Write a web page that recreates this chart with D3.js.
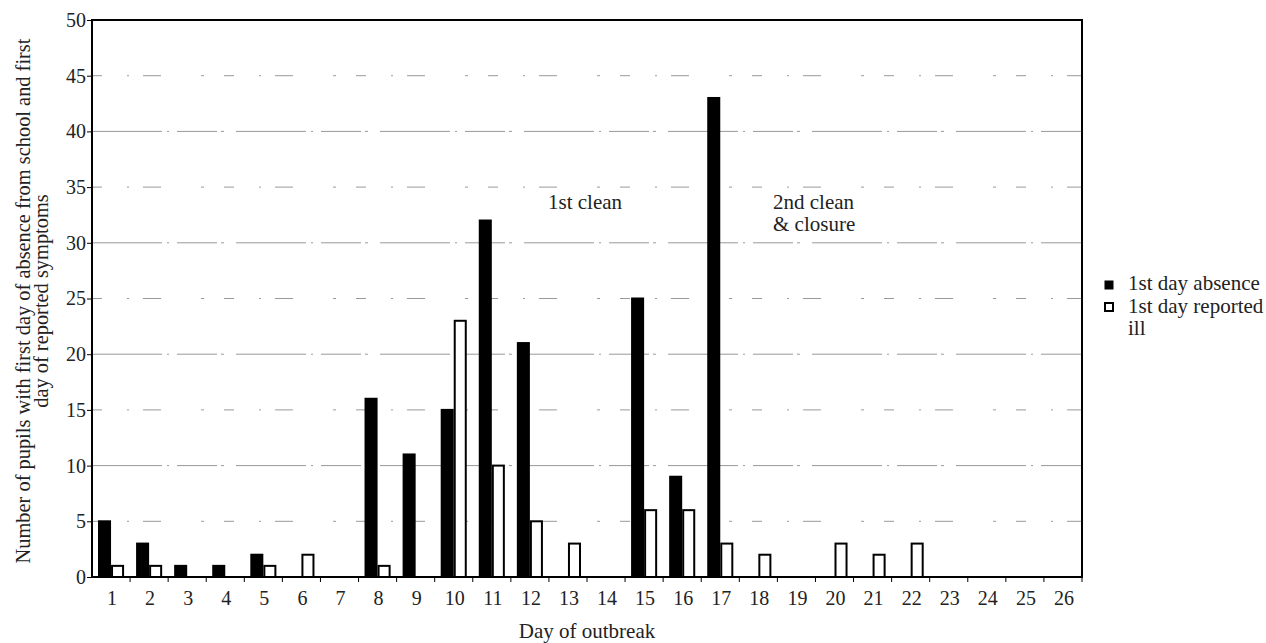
<!DOCTYPE html>
<html>
<head>
<meta charset="utf-8">
<script src="https://cdn.jsdelivr.net/npm/d3@7"></script>
<style>
  body { margin: 0; background: #fff; }
  svg text { font-family: "Liberation Serif", "Times New Roman", Times, serif; fill: #222; }
</style>
</head>
<body>
<svg id="chart" width="1266" height="643" font-family="Liberation Serif, Times New Roman, serif"></svg>
<script>
// values
var days = ["1","2","3","4","5","6","7","8","9","10","11","12","13","14","15","16","17","18","19","20","21","22","23","24","25","26"]
var absence  = [5,3,1,1,2,0,0,16,11,15,32,21,0,0,25,9,43,0,0,0,0,0,0,0,0,0]
var reported = [1,1,0,0,1,2,0,1,0,23,10,5,3,0,6,6,3,2,0,3,2,3,0,0,0,0]
var series = ["1st day absence","1st day reported ill"]
var yTicks = [0,5,10,15,20,25,30,35,40,45,50]

var FONT = "'Liberation Serif', 'Times New Roman', serif"
var margin = {left: 92, top: 20, right: 1082, bottom: 577}
var svg = d3.select("#chart")

var x = d3.scaleBand().domain(days).range([margin.left, margin.right]).padding(0)
var xs = d3.scaleBand().domain(series).range([6, x.bandwidth() - 6]).padding(0)
var y = d3.scaleLinear().domain([0, 50]).range([margin.bottom, margin.top])

// grid (faint broken lines like the scan)
svg.append("g").selectAll("line")
    .data(yTicks.filter(d => d > 0 && d < 50))
    .enter().append("line")
    .attr("x1", margin.left).attr("x2", margin.right)
    .attr("y1", d => y(d)).attr("y2", d => y(d))
    .attr("stroke", "#999")
    .attr("stroke-width", 1)
    .attr("stroke-dasharray", d => d % 10 == 0 ? "70,5,2,8,40,4,3,12" : "10,25,2,14,18,40,3,20")

// bars
var rows = days.map((d, i) => ({day: d, vals: [absence[i], reported[i]]}))
var grp = svg.append("g").selectAll("g").data(rows).enter().append("g")
    .attr("transform", d => "translate(" + x(d.day) + ",0)")
grp.selectAll("rect")
    .data(d => d.vals.map((v, k) => ({s: series[k], v: v})).filter(e => e.v > 0))
    .enter().append("rect")
    .attr("x", d => xs(d.s) + 1)
    .attr("width", xs.bandwidth() - 2)
    .attr("y", d => y(d.v))
    .attr("height", d => y(0) - y(d.v))
    .attr("fill", d => d.s == series[0] ? "#000" : "#fff")
    .attr("stroke", "#000")
    .attr("stroke-width", 2)

// frame
svg.append("rect")
    .attr("x", margin.left).attr("y", margin.top)
    .attr("width", margin.right - margin.left).attr("height", margin.bottom - margin.top)
    .attr("fill", "none").attr("stroke", "#000").attr("stroke-width", 2)

// y axis
var yAxis = d3.axisLeft(y).tickValues(yTicks).tickSize(5).tickPadding(1)
var gy = svg.append("g").attr("transform", "translate(" + margin.left + ",0)").call(yAxis)
gy.attr("font-family", FONT)
gy.select(".domain").remove()
gy.selectAll("text").style("font-size", "20px").attr("fill", "#222")

// x axis: ticks at band boundaries, labels at band centres
var xAxis = d3.axisBottom(x).tickSize(0).tickPadding(14)
var gx = svg.append("g").attr("transform", "translate(1," + margin.bottom + ")").call(xAxis)
gx.attr("font-family", FONT)
gx.select(".domain").remove()
gx.selectAll("text").style("font-size", "20px").attr("fill", "#222")
svg.append("g").selectAll("line")
    .data(days.slice(1).concat(["end"]))
    .enter().append("line")
    .attr("x1", (d, i) => margin.left + (i + 1) * x.step())
    .attr("x2", (d, i) => margin.left + (i + 1) * x.step())
    .attr("y1", margin.bottom).attr("y2", margin.bottom + 5)
    .attr("stroke", "#000").attr("stroke-width", 1)

// axis titles
svg.append("text")
    .attr("x", 587).attr("y", 638)
    .attr("text-anchor", "middle")
    .style("font-size", "21px")
    .text("Day of outbreak")

var yt = svg.append("text")
    .attr("transform", "translate(30,301) rotate(-90)")
    .attr("text-anchor", "middle")
    .style("font-size", "20.4px")
yt.append("tspan").attr("x", 0).attr("dy", 0).text("Number of pupils with first day of absence from school and first")
yt.append("tspan").attr("x", 0).attr("dy", 18).text("day of reported symptoms")

// annotations
svg.append("text").attr("x", 548).attr("y", 209).style("font-size", "21px").text("1st clean")
var ann = svg.append("text").attr("x", 773).attr("y", 209).style("font-size", "21px")
ann.append("tspan").attr("x", 773).text("2nd clean")
ann.append("tspan").attr("x", 773).attr("dy", 22).text("& closure")

// legend
var lg = svg.append("g")
lg.append("rect").attr("x", 1105).attr("y", 281).attr("width", 8).attr("height", 8)
    .attr("fill", "#000").attr("stroke", "#000").attr("stroke-width", 1)
lg.append("text").attr("x", 1128).attr("y", 290).style("font-size", "21px").text(series[0])
lg.append("rect").attr("x", 1105).attr("y", 303).attr("width", 8).attr("height", 8)
    .attr("fill", "#fff").attr("stroke", "#000").attr("stroke-width", 2)
var lt = lg.append("text").attr("x", 1128).attr("y", 313).style("font-size", "21px")
lt.append("tspan").attr("x", 1128).text("1st day reported")
lt.append("tspan").attr("x", 1128).attr("dy", 22).text("ill")
</script>
</body>
</html>
